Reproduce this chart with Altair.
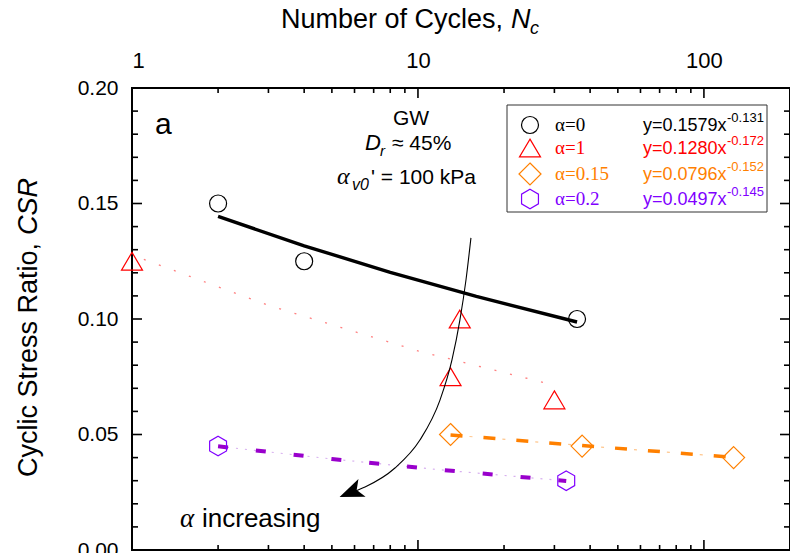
import altair as alt
import pandas as pd

# ---------------- data ----------------
a0_n = [2, 4, 36]
a0_csr = [0.15, 0.125, 0.10]
a1_n = [1, 14, 13, 30]
a1_csr = [0.125, 0.10, 0.075, 0.065]
a15_n = [13, 37.5, 127]
a15_csr = [0.05, 0.045, 0.04]
a2_n = [2, 33]
a2_csr = [0.045, 0.03]

fit0_n = [2, 4, 8, 16, 36]
fit0_csr = [0.1444, 0.1317, 0.1202, 0.1098, 0.0987]
fit1_n = [1.1, 3, 10, 30]
fit1_csr = [0.1258, 0.1059, 0.0862, 0.0713]
fit15_n = [13, 37.5, 125]
fit15_csr = [0.0498, 0.0452, 0.0402]
fit2_n = [2, 5, 12, 33]
fit2_csr = [0.0449, 0.0394, 0.0347, 0.0299]

arrow_n = [15.32, 14.72, 14.02, 13.15, 11.94, 10.16, 8.31, 6.53, 6.02]
arrow_csr = [0.1351, 0.1169, 0.0996, 0.0823, 0.0649, 0.0476, 0.0355, 0.0273, 0.0255]
arrowhead_n = [5.85]
arrowhead_csr = [0.0250]

legend_labels = ["α=0", "α=1", "α=0.15", "α=0.2"]
legend_eq = ["y=0.1579x", "y=0.1280x", "y=0.0796x", "y=0.0497x"]
legend_exp = ["-0.131", "-0.172", "-0.152", "-0.145"]

x_major = [1, 10, 100]
x_minor = [2, 3, 4, 5, 6, 7, 8, 9, 20, 30, 40, 50, 60, 70, 80, 90]
y_major = [0.0, 0.05, 0.10, 0.15, 0.20]
y_minor = [0.01, 0.02, 0.03, 0.04, 0.06, 0.07, 0.08, 0.09, 0.11, 0.12, 0.13,
           0.14, 0.16, 0.17, 0.18, 0.19]

# ---------------- styles ----------------
W, H = 658, 462
OX, OY = 132, 88
BLACK, RED, ORANGE, PURPLE = "#000000", "#ff0000", "#ff8000", "#8000ff"
SANS, SERIF = "Liberation Sans", "Liberation Serif"
TRI = "M0,-0.85L1,0.85L-1,0.85Z"
DIAMOND = "M0,-1L1,0L0,1L-1,0Z"
HEX = "M0,-1L0.866,-0.5L0.866,0.5L0,1L-0.866,0.5L-0.866,-0.5Z"
ARROW = "M0,-1L0.75,0.9L0,0.45L-0.75,0.9Z"

xscale = alt.Scale(type="log", domain=[1, 200])
yscale = alt.Scale(domain=[0, 0.2])
xaxis = alt.Axis(orient="top", values=x_major, format="d", ticks=False, domain=False,
                 grid=False, title=None, labelPadding=16, labelFontSize=22,
                 labelFont=SANS, labelColor="black")
yaxis = alt.Axis(orient="left", values=y_major, format=".2f", ticks=False, domain=False,
                 grid=False, title=None, labelPadding=14, labelFontSize=21,
                 labelFont=SANS, labelColor="black")


def X(f):
    return alt.X(f, type="quantitative", scale=xscale, axis=xaxis)


def Y(f):
    return alt.Y(f, type="quantitative", scale=yscale, axis=yaxis)


def df(n, c):
    return pd.DataFrame({"n": n, "csr": c})


layers = []

# fitted lines
layers.append(alt.Chart(df(fit0_n, fit0_csr)).mark_line(color=BLACK, strokeWidth=3.4)
              .encode(x=X("n"), y=Y("csr")))
layers.append(alt.Chart(df(fit1_n, fit1_csr)).mark_line(color="#ff6060", strokeWidth=1.3,
                                                         strokeDash=[2, 14], opacity=0.8)
              .encode(x=X("n"), y=Y("csr")))
layers.append(alt.Chart(df(fit15_n, fit15_csr)).mark_line(color=ORANGE, strokeWidth=1.2,
                                                           strokeDash=[3, 30], strokeDashOffset=-19,
                                                           opacity=0.45)
              .encode(x=X("n"), y=Y("csr")))
layers.append(alt.Chart(df(fit15_n, fit15_csr)).mark_line(color=ORANGE, strokeWidth=3.5,
                                                           strokeDash=[12, 21])
              .encode(x=X("n"), y=Y("csr")))
layers.append(alt.Chart(df(fit2_n, fit2_csr)).mark_line(color="#b060e0", strokeWidth=1.2,
                                                         strokeDash=[2, 7], opacity=0.5)
              .encode(x=X("n"), y=Y("csr")))
layers.append(alt.Chart(df(fit2_n, fit2_csr)).mark_line(color="#9900cc", strokeWidth=4,
                                                         strokeDash=[10, 28])
              .encode(x=X("n"), y=Y("csr")))

# markers
for n, c, shape, size, col in [
    (a0_n, a0_csr, "circle", 289, BLACK),
    (a1_n, a1_csr, TRI, 441, RED),
    (a15_n, a15_csr, DIAMOND, 484, ORANGE),
    (a2_n, a2_csr, HEX, 380, PURPLE),
]:
    layers.append(alt.Chart(df(n, c)).mark_point(shape=shape, size=size, filled=False,
                                                  stroke=col, strokeWidth=1.2, opacity=1)
                  .encode(x=X("n"), y=Y("csr")))

# curved arrow
layers.append(alt.Chart(df(arrow_n, arrow_csr)).mark_line(color=BLACK, strokeWidth=1.1,
                                                           interpolate="monotone")
              .encode(x=X("n"), y=Y("csr")))
layers.append(alt.Chart(df(arrowhead_n, arrowhead_csr)).mark_point(shape=ARROW, size=650,
                                                                    filled=True, color=BLACK,
                                                                    opacity=1, angle=248)
              .encode(x=X("n"), y=Y("csr")))

# inward ticks
tick_specs = [
    (x_major, "x", 0, 10), (x_minor, "x", 0, 5),
    (x_major, "x", H - 10, H), (x_minor, "x", H - 5, H),
    (y_major, "y", 0, 10), (y_minor, "y", 0, 6),
    (y_major, "y", W - 10, W), (y_minor, "y", W - 6, W),
]
for vals, ch, p0, p1 in tick_specs:
    d = pd.DataFrame({"v": vals})
    if ch == "x":
        enc = dict(x=X("v"), y=alt.value(p0), y2=alt.value(p1))
    else:
        enc = dict(y=Y("v"), x=alt.value(p0), x2=alt.value(p1))
    layers.append(alt.Chart(d).mark_rule(color=BLACK, strokeWidth=1.6).encode(**enc))


def txt(s, x, y, size, font=SANS, style="normal", align="left", baseline="alphabetic",
        color=BLACK, angle=0):
    return (alt.Chart(pd.DataFrame({"t": [s]}))
            .mark_text(align=align, baseline=baseline, fontSize=size, font=font,
                       fontStyle=style, color=color, angle=angle)
            .encode(x=alt.value(x - OX), y=alt.value(y - OY), text="t:N"))


# legend box
layers.append(alt.Chart(pd.DataFrame({"a": [0]})).mark_rect(fill="white", stroke="#333333",
                                                             strokeWidth=1)
              .encode(x=alt.value(507 - OX), x2=alt.value(767 - OX),
                      y=alt.value(105 - OY), y2=alt.value(212 - OY)))
leg_rows = [125, 148, 174, 199]
leg_shapes = [("circle", 289), (TRI, 441), (DIAMOND, 484), (HEX, 380)]
leg_colors = [BLACK, RED, ORANGE, PURPLE]
for i in range(4):
    ry = leg_rows[i]
    shp, sz = leg_shapes[i]
    layers.append(alt.Chart(pd.DataFrame({"a": [0]})).mark_point(shape=shp, size=sz,
                                                                  filled=False,
                                                                  stroke=leg_colors[i],
                                                                  strokeWidth=1.2, opacity=1)
                  .encode(x=alt.value(530 - OX), y=alt.value(ry - OY)))
    layers.append(txt(legend_labels[i], 555, ry + 6, 19, font=SERIF, color=leg_colors[i]))
    layers.append(txt(legend_eq[i], 643, ry + 6, 18, color=leg_colors[i]))
    layers.append(txt(legend_exp[i], 727, ry - 3, 13, color=leg_colors[i]))

# annotations
layers.append(txt("a", 155, 134, 30))
layers.append(txt("GW", 411, 125, 21, align="center"))
layers.append(txt("D", 365, 150, 22, style="italic"))
layers.append(txt("r", 380, 156, 15, style="italic"))
layers.append(txt("≈ 45%", 392, 150, 21))
layers.append(txt("α", 337, 184, 24, font=SERIF, style="italic"))
layers.append(txt("v0", 352, 190, 16, style="italic"))
layers.append(txt("' = 100 kPa", 371, 184, 21))
layers.append(txt("α", 180, 527, 27, font=SERIF, style="italic"))
layers.append(txt("increasing", 202, 527, 26))

# axis titles
layers.append(txt("Number of Cycles,", 503, 28, 27, align="right"))
layers.append(txt("N", 511, 28, 27, style="italic"))
layers.append(txt("c", 530, 34, 18, style="italic"))
layers.append(txt("Cyclic Stress Ratio,", 29, 243, 27, align="right", baseline="middle",
                  angle=270))
layers.append(txt("CSR", 29, 235, 27, style="italic", align="left", baseline="middle",
                  angle=270))

chart = (alt.layer(*layers)
         .properties(width=W, height=H, autosize=alt.AutoSizeParams(type="none"),
                     padding={"left": OX, "top": OY, "right": 0, "bottom": 3})
         .configure_view(stroke="black", strokeWidth=2))

chart.save("out.html", embed_options={"renderer": "svg", "actions": False})
